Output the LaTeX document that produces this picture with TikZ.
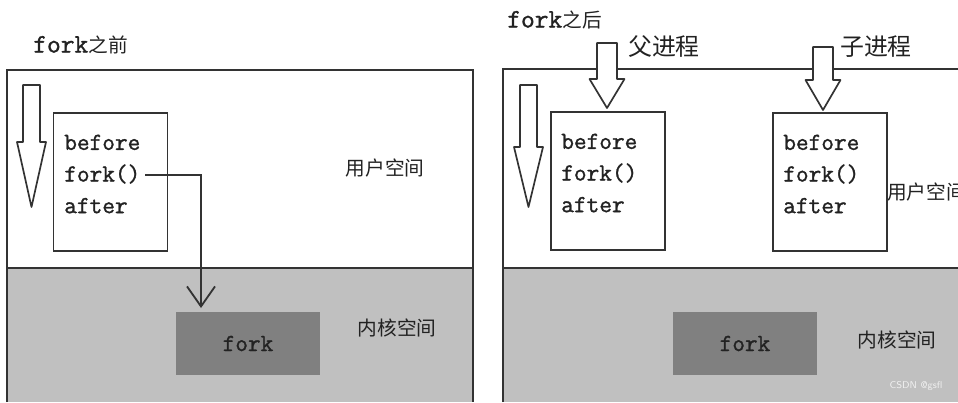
\documentclass[tikz,border=0pt]{standalone}
\usepackage{fontspec}
\newfontfamily\cjk{Noto Sans CJK SC}
\newfontfamily\codefont[FakeBold=1.2]{Latin Modern Mono}
\usetikzlibrary{arrows.meta}
\definecolor{kernelgray}{HTML}{C0C0C0}
\definecolor{forkgray}{HTML}{808080}
\definecolor{linegray}{HTML}{333333}
\definecolor{inkgray}{HTML}{222222}
\tikzstyle{frame} = [draw=linegray, line width=1.3pt]
\tikzstyle{codebox} = [rectangle, draw=linegray, line width=1.3pt, fill=white, minimum width=2.85cm, minimum height=3.45cm]
\tikzstyle{codetext} = [anchor=west, align=left, inner sep=0pt, text=inkgray, font=\codefont\fontsize{17.5}{22.5}\selectfont]
\tikzstyle{syscall} = [rectangle, fill=forkgray, minimum width=3.6cm, minimum height=1.58cm, text=inkgray, font=\codefont\fontsize{17.5}{20}\selectfont]
\tikzstyle{space} = [text=inkgray, inner sep=0pt, font=\cjk\fontsize{14}{16}\selectfont]
\tikzstyle{title} = [text=inkgray, inner sep=0pt, anchor=west, font=\fontsize{19}{21}\selectfont]
\tikzstyle{proc} = [text=inkgray, inner sep=0pt, font=\cjk\fontsize{17}{19}\selectfont]
\tikzstyle{blockarrow} = [draw=linegray, fill=white, line width=1.2pt, line join=round]
\tikzstyle{arrow} = [draw=linegray, line width=1.3pt, -{Straight Barb[length=0.5cm,width=0.7cm,line width=1.3pt]}]
\tikzset{pics/fallarrow/.style n args={4}{code={
  \draw[blockarrow] (-#2,0) -- (#2,0) -- (#2,#1-#4) -- (#3,#1-#4) -- (0,#1) -- (-#3,#1-#4) -- (-#2,#1-#4) -- cycle;
}}}
\begin{document}
\begin{tikzpicture}[x=0.025cm, y=-0.025cm]
  \useasboundingbox (0,0) rectangle (958,402);
  % before fork
  \fill[kernelgray] (7,268) rectangle (473,402);
  \draw[frame] (7,402) -- (7,70) -- (473,70) -- (473,402);
  \draw[frame] (7,268) -- (473,268);
  \node (before) [title] at (33,45) {\codefont fork{\cjk\fontsize{14}{16}\selectfont 之前}};
  \pic at (31.5,85) {fallarrow={122}{8.5}{14.5}{65}};
  \node (lcode) [codebox] at (110.5,182) {};
  \node (ltext) [codetext] at (64,174) {before\\fork()\\after};
  \node (luser) [space] at (385,168) {用户空间};
  \node (lkernel) [space] at (397,328) {内核空间};
  \node (lfork) [syscall] at (248,343.5) {fork};
  \coordinate (lcall) at (145,175);
  \coordinate (lentry) at (201,308);
  \draw [arrow] (lcall) -| (lentry);
  % after fork
  \fill[kernelgray] (503,268) rectangle (958,402);
  \draw[frame] (503,402) -- (503,69) -- (958,69);
  \draw[frame] (503,268) -- (958,268);
  \node (after) [title] at (507,20) {\codefont fork{\cjk\fontsize{14}{16}\selectfont 之后}};
  \pic at (528.5,85) {fallarrow={122}{8.5}{14.5}{60}};
  \node (pcode) [codebox] at (608,181) {};
  \node (ccode) [codebox] at (830,182) {};
  \pic at (607,43) {fallarrow={65}{10}{17.5}{29}};
  \pic at (823,47) {fallarrow={63}{10}{17.5}{30}};
  \node (parent) [proc] at (664,47) {父进程};
  \node (child) [proc] at (876,47) {子进程};
  \node (ptext) [codetext] at (561,173) {before\\fork()\\after};
  \node (ctext) [codetext] at (783,174) {before\\fork()\\after};
  \node (ruser) [space, anchor=west] at (887,192) {用户空间};
  \node (rkernel) [space] at (897,340) {内核空间};
  \node (rfork) [syscall] at (745,343.5) {fork};
  \node (mark) [inner sep=0pt, text=white!88!gray, font=\sffamily\fontsize{7}{8}\selectfont] at (916,386) {CSDN @gsfl};
\end{tikzpicture}
\end{document}
